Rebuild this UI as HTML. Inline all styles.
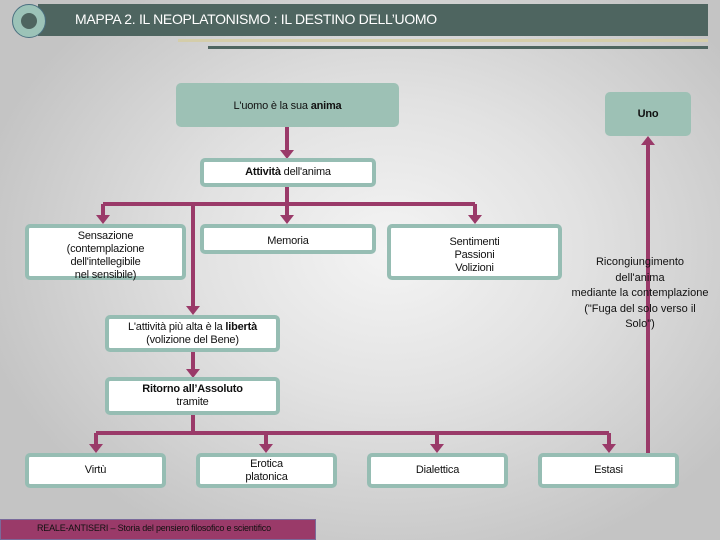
<!DOCTYPE html>
<html><head><meta charset="utf-8"><style>
*{margin:0;padding:0;box-sizing:border-box}
body{width:720px;height:540px;overflow:hidden;position:relative;font-family:"Liberation Sans",sans-serif;
background:radial-gradient(ellipse 420px 330px at 390px 250px,#f4f4f4 0%,#e2e2e2 45%,#c4c4c4 100%);}
.b{position:absolute;background:#fff;border:4px solid #96bdb3;border-radius:5px;font-size:11px;color:#111;text-align:center;line-height:13px;display:flex;align-items:center;justify-content:center;letter-spacing:-0.2px}
.t{position:absolute;font-size:11px;color:#111;text-align:center;line-height:15.5px}
</style></head><body>
<div style="position:absolute;left:38px;top:4px;width:670px;height:32px;background:#4e6560"></div>
<div style="position:absolute;left:12px;top:4px;width:34px;height:34px;border-radius:50%;background:#9cc3b8;border:1px solid #4a7080"></div>
<div style="position:absolute;left:21px;top:13px;width:16px;height:16px;border-radius:50%;background:#4e6560"></div>
<div style="position:absolute;left:75px;top:11px;color:#fff;font-size:14px;letter-spacing:-0.3px">MAPPA 2. IL NEOPLATONISMO : IL DESTINO DELL’UOMO</div>
<div style="position:absolute;left:178px;top:39px;width:530px;height:3px;background:#d4cdaa"></div>
<div style="position:absolute;left:208px;top:46px;width:500px;height:3px;background:#4e6560"></div>

<svg width="720" height="540" style="position:absolute;left:0;top:0">
<g stroke="#9a3a69" stroke-width="4" fill="none">
<path d="M287 127V150"/><path d="M287 187V204"/><path d="M103 204H475"/>
<path d="M103 204V215"/><path d="M287 204V215"/><path d="M475 204V215"/>
<path d="M193 204V306"/><path d="M193 352V369"/><path d="M193 415V433"/>
<path d="M96 433H609"/><path d="M96 433V444"/><path d="M266 433V444"/><path d="M437 433V444"/><path d="M609 433V444"/>
<path d="M648 453V145"/>
</g>
<g fill="#9a3a69">
<path d="M280 150h14l-7 9z"/>
<path d="M96 215h14l-7 9z"/><path d="M280 215h14l-7 9z"/><path d="M468 215h14l-7 9z"/>
<path d="M186 306h14l-7 9z"/><path d="M186 369h14l-7 9z"/>
<path d="M89 444h14l-7 9z"/><path d="M259 444h14l-7 9z"/><path d="M430 444h14l-7 9z"/><path d="M602 444h14l-7 9z"/>
<path d="M641 145h14l-7 -9z"/>
</g>
</svg>

<div class="b" style="left:176px;top:83px;width:223px;height:44px;background:#9dc1b5;border-color:#9dc1b5;align-items:flex-start;padding-top:13px"><span>L'uomo è la sua <b>anima</b></span></div>
<div class="b" style="left:605px;top:92px;width:86px;height:44px;background:#9dc1b5;border-color:#9dc1b5"><b>Uno</b></div>
<div class="b" style="left:200px;top:158px;width:176px;height:29px"><span><b>Attività</b> dell'anima</span></div>
<div class="b" style="left:25px;top:224px;width:161px;height:56px;align-items:flex-start;padding-top:2px"><span>Sensazione<br>(contemplazione<br>dell'intellegibile<br>nel sensibile)</span></div>
<div class="b" style="left:200px;top:224px;width:176px;height:30px;align-items:flex-start;padding-top:7px">Memoria</div>
<div class="b" style="left:387px;top:224px;width:175px;height:56px;align-items:flex-start;padding-top:8px"><span>Sentimenti<br>Passioni<br>Volizioni</span></div>
<div class="b" style="left:105px;top:315px;width:175px;height:37px"><span>L'attività più alta è la <b>libertà</b><br>(volizione del Bene)</span></div>
<div class="b" style="left:105px;top:377px;width:175px;height:38px"><span><b>Ritorno all’Assoluto</b><br>tramite</span></div>
<div class="b" style="left:25px;top:453px;width:141px;height:35px">Virtù</div>
<div class="b" style="left:196px;top:453px;width:141px;height:35px"><span>Erotica<br>platonica</span></div>
<div class="b" style="left:367px;top:453px;width:141px;height:35px">Dialettica</div>
<div class="b" style="left:538px;top:453px;width:141px;height:35px">Estasi</div>
<div class="t" style="left:565px;top:255px;width:150px">Ricongiungimento<br>dell'anima<br>mediante la contemplazione<br>("Fuga del solo verso il<br>Solo")</div>

<div style="position:absolute;left:0;top:519px;width:316px;height:21px;background:#9a3a69;border:1px solid #7a6a9a"></div>
<div style="position:absolute;left:37px;top:523px;font-size:9px;color:#111;letter-spacing:-0.2px">REALE-ANTISERI – Storia del pensiero filosofico e scientifico</div>
</body></html>
